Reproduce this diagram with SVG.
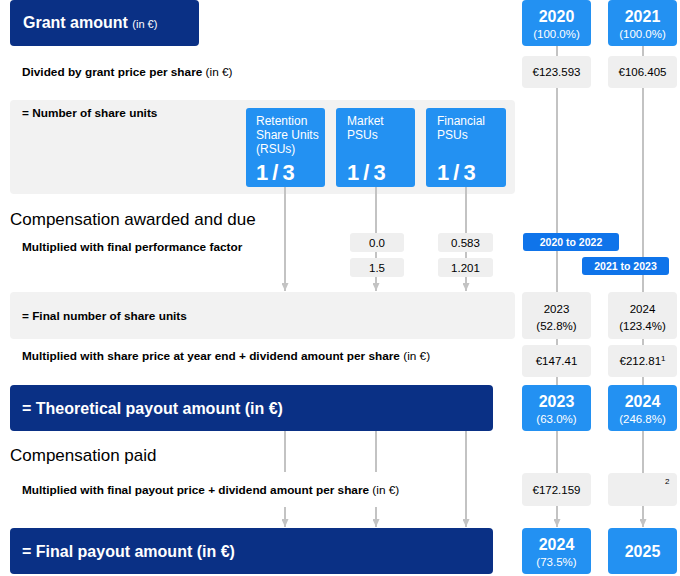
<svg xmlns="http://www.w3.org/2000/svg" width="680" height="576" viewBox="0 0 680 576">
<style>
text{font-family:"Liberation Sans",Arial,sans-serif;}
.dark{fill:#0a3085;}
.yr{fill:#2391f2;}
.lbl{fill:#0f74ea;}
.panel{fill:#f2f2f2;}
.gbox{fill:#efefef;}
.w{fill:#ffffff;}
.b{font-weight:bold;}
.row{font-size:11.8px;font-weight:bold;fill:#000;}
.in{font-weight:normal;}
.sec{font-size:17px;fill:#000;}
.val{font-size:11.5px;fill:#000;text-anchor:middle;}
.yt{font-size:16px;font-weight:bold;fill:#fff;text-anchor:middle;}
.yp{font-size:11.5px;fill:#fff;text-anchor:middle;}
.big{font-size:16px;font-weight:bold;fill:#fff;}
.sh{font-size:12px;fill:#fff;}
.frac{font-size:22px;font-weight:bold;fill:#fff;letter-spacing:-1px;}
.conn line{stroke:#c3c3c3;stroke-width:2;fill:none;}
.lt{font-size:10.5px;font-weight:bold;fill:#fff;text-anchor:middle;}
</style>
<defs>
<marker id="ah" viewBox="0 0 8 7" refX="8" refY="3.5" markerWidth="8" markerHeight="7" markerUnits="userSpaceOnUse" orient="auto">
<path d="M0,0 L8,3.5 L0,7 Z" fill="#c3c3c3"/>
</marker>
</defs>

<!-- background panels -->
<g id="panel-number">
<rect class="panel" x="10" y="100" width="505" height="94" rx="4"/>
<text class="row" x="22" y="117">= Number of share units</text>
</g>
<g id="panel-final-number">
<rect class="panel" x="10" y="292" width="505" height="47" rx="4"/>
<text class="row" x="22" y="320">= Final number of share units</text>
</g>

<!-- connectors -->
<g class="conn" id="connectors">
<line x1="557" y1="46" x2="557" y2="56"/>
<line x1="643" y1="46" x2="643" y2="56"/>
<line x1="557" y1="88" x2="557" y2="292"/>
<line x1="643" y1="88" x2="643" y2="292"/>
<line x1="285" y1="187" x2="285" y2="291" marker-end="url(#ah)"/>
<line x1="376" y1="187" x2="376" y2="233"/>
<line x1="466" y1="187" x2="466" y2="233"/>
<line x1="376" y1="252" x2="376" y2="258"/>
<line x1="466" y1="252" x2="466" y2="258"/>
<line x1="376" y1="277" x2="376" y2="291" marker-end="url(#ah)"/>
<line x1="466" y1="277" x2="466" y2="291" marker-end="url(#ah)"/>
<line x1="557" y1="339" x2="557" y2="345"/>
<line x1="643" y1="339" x2="643" y2="345"/>
<line x1="557" y1="377" x2="557" y2="385"/>
<line x1="643" y1="377" x2="643" y2="385"/>
<line x1="285" y1="431" x2="285" y2="472"/>
<line x1="376" y1="431" x2="376" y2="472"/>
<line x1="285" y1="507" x2="285" y2="527" marker-end="url(#ah)"/>
<line x1="376" y1="507" x2="376" y2="527" marker-end="url(#ah)"/>
<line x1="466" y1="431" x2="466" y2="527" marker-end="url(#ah)"/>
<line x1="557" y1="431" x2="557" y2="473"/>
<line x1="643" y1="431" x2="643" y2="473"/>
<line x1="557" y1="506" x2="557" y2="527" marker-end="url(#ah)"/>
<line x1="643" y1="506" x2="643" y2="527" marker-end="url(#ah)"/>
</g>

<!-- grant amount -->
<g id="grant-amount">
<rect class="dark" x="10" y="0" width="189" height="46" rx="4"/>
<text x="23" y="28" class="big">Grant amount <tspan class="in" font-size="11">(in €)</tspan></text>
</g>
<g id="y2020">
<rect class="yr" x="522" y="0" width="69" height="46" rx="4"/>
<text class="yt" x="556.5" y="22">2020</text>
<text class="yp" x="556.5" y="38">(100.0%)</text>
</g>
<g id="y2021">
<rect class="yr" x="608" y="0" width="69" height="46" rx="4"/>
<text class="yt" x="642.5" y="22">2021</text>
<text class="yp" x="642.5" y="38">(100.0%)</text>
</g>

<g id="row-divided">
<text class="row" x="22" y="76">Divided by grant price per share <tspan class="in">(in €)</tspan></text>
</g>
<g id="price-2020">
<rect class="gbox" x="522" y="56" width="69" height="32" rx="4"/>
<text class="val" x="556.5" y="76">€123.593</text>
</g>
<g id="price-2021">
<rect class="gbox" x="608" y="56" width="69" height="32" rx="4"/>
<text class="val" x="642.5" y="76">€106.405</text>
</g>

<!-- share unit types -->
<g id="rsu">
<rect class="yr" x="246" y="108" width="79" height="79" rx="3"/>
<text class="sh" x="256" y="125">Retention</text>
<text class="sh" x="256" y="139">Share Units</text>
<text class="sh" x="256" y="153">(RSUs)</text>
<text class="frac" x="256" y="180">1 / 3</text>
</g>
<g id="market-psu">
<rect class="yr" x="336" y="108" width="79" height="79" rx="3"/>
<text class="sh" x="347" y="125">Market</text>
<text class="sh" x="347" y="139">PSUs</text>
<text class="frac" x="347" y="180">1 / 3</text>
</g>
<g id="financial-psu">
<rect class="yr" x="426" y="108" width="80" height="79" rx="3"/>
<text class="sh" x="437" y="125">Financial</text>
<text class="sh" x="437" y="139">PSUs</text>
<text class="frac" x="437" y="180">1 / 3</text>
</g>

<g id="section-awarded">
<text class="sec" x="10" y="225">Compensation awarded and due</text>
</g>
<g id="row-performance">
<text class="row" x="22" y="251">Multiplied with final performance factor</text>
</g>
<g id="pf-market-1">
<rect class="gbox" x="350" y="233" width="54" height="19" rx="3"/>
<text class="val" x="377" y="247">0.0</text>
</g>
<g id="pf-market-2">
<rect class="gbox" x="350" y="258" width="54" height="19" rx="3"/>
<text class="val" x="377" y="272">1.5</text>
</g>
<g id="pf-fin-1">
<rect class="gbox" x="438" y="233" width="55" height="19" rx="3"/>
<text class="val" x="465.5" y="247">0.583</text>
</g>
<g id="pf-fin-2">
<rect class="gbox" x="438" y="258" width="55" height="19" rx="3"/>
<text class="val" x="465.5" y="272">1.201</text>
</g>
<g id="period-2020">
<rect class="lbl" x="523" y="233" width="96" height="18" rx="3"/>
<text class="lt" x="571" y="246">2020 to 2022</text>
</g>
<g id="period-2021">
<rect class="lbl" x="582" y="257" width="87" height="18" rx="3"/>
<text class="lt" x="625.5" y="270">2021 to 2023</text>
</g>

<g id="final-2020">
<rect class="gbox" x="522" y="292" width="69" height="47" rx="4"/>
<text class="val" x="556.5" y="313">2023</text>
<text class="val" x="556.5" y="330">(52.8%)</text>
</g>
<g id="final-2021">
<rect class="gbox" x="608" y="292" width="69" height="47" rx="4"/>
<text class="val" x="642.5" y="313">2024</text>
<text class="val" x="642.5" y="330">(123.4%)</text>
</g>

<g id="row-shareprice">
<text class="row" x="22" y="360">Multiplied with share price at year end + dividend amount per share <tspan class="in">(in €)</tspan></text>
</g>
<g id="sp-2020">
<rect class="gbox" x="522" y="345" width="69" height="32" rx="4"/>
<text class="val" x="556.5" y="365">€147.41</text>
</g>
<g id="sp-2021">
<rect class="gbox" x="608" y="345" width="69" height="32" rx="4"/>
<text class="val" x="642.5" y="365">€212.81<tspan font-size="8" dy="-4">1</tspan></text>
</g>

<g id="theoretical">
<rect class="dark" x="10" y="385" width="483" height="46" rx="4"/>
<text class="big" x="22" y="414">= Theoretical payout amount (in €)</text>
</g>
<g id="th-2020">
<rect class="yr" x="522" y="385" width="69" height="46" rx="4"/>
<text class="yt" x="556.5" y="407">2023</text>
<text class="yp" x="556.5" y="423">(63.0%)</text>
</g>
<g id="th-2021">
<rect class="yr" x="608" y="385" width="69" height="46" rx="4"/>
<text class="yt" x="642.5" y="407">2024</text>
<text class="yp" x="642.5" y="423">(246.8%)</text>
</g>

<g id="section-paid">
<text class="sec" x="10" y="461">Compensation paid</text>
</g>
<g id="row-payoutprice">
<text class="row" x="22" y="494">Multiplied with final payout price + dividend amount per share <tspan class="in">(in €)</tspan></text>
</g>
<g id="pp-2020">
<rect class="gbox" x="522" y="473" width="69" height="33" rx="4"/>
<text class="val" x="556.5" y="494">€172.159</text>
</g>
<g id="pp-2021">
<rect class="gbox" x="608" y="473" width="69" height="33" rx="4"/>
<text x="665" y="484" font-size="8" fill="#000">2</text>
</g>

<g id="final-payout">
<rect class="dark" x="10" y="528" width="483" height="46" rx="4"/>
<text class="big" x="22" y="557">= Final payout amount (in €)</text>
</g>
<g id="fp-2020">
<rect class="yr" x="522" y="528" width="69" height="46" rx="4"/>
<text class="yt" x="556.5" y="550">2024</text>
<text class="yp" x="556.5" y="566">(73.5%)</text>
</g>
<g id="fp-2021">
<rect class="yr" x="608" y="528" width="69" height="46" rx="4"/>
<text class="yt" x="642.5" y="557">2025</text>
</g>
</svg>
